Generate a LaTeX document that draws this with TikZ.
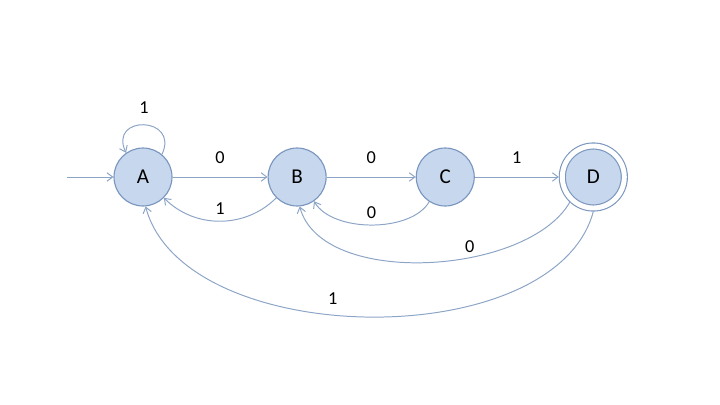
\documentclass[tikz,border=0pt]{standalone}
\usepackage{fontspec}
\setmainfont{Carlito}
\usepackage{tikz}
\usetikzlibrary{positioning,arrows.meta}
\definecolor{statefill}{RGB}{198,215,238}
\definecolor{stateline}{RGB}{122,150,190}
\definecolor{edgeline}{RGB}{140,164,198}
\tikzset{
  state/.style={circle, draw=stateline, fill=statefill, line width=0.8pt, minimum size=14.5mm, inner sep=0pt, font=\fontsize{15}{17}\selectfont},
  accept/.style={double=white, double distance=3.5pt, minimum size=15.5mm, outer sep=2.5pt},
  fwd/.style={-{Straight Barb[length=4pt,width=6pt]}, draw=edgeline, line width=0.7pt},
  lbl/.style={font=\fontsize{13}{15}\selectfont, inner sep=1pt},
}
\begin{document}
\begin{tikzpicture}
  \useasboundingbox (0,0) rectangle (18,-10.125);
  \node[state] (nodeA) at (3.575,-4.425) {A};
  \node[state] (nodeB) [right=2.375cm of nodeA] {B};
  \node[state] (nodeC) [right=2.225cm of nodeB] {C};
  \node[state, accept] (nodeD) [right=2.1cm of nodeC] {D};
  \coordinate[left=1.15cm of nodeA] (start);

  \draw[fwd] (start) -- (nodeA);
  \draw[fwd] (nodeA.50) to[out=65, in=115, looseness=3] node[lbl, above=7pt] {1} (nodeA.125);
  \draw[fwd] (nodeA) -- node[lbl, above=8.5pt] {0} (nodeB);
  \draw[fwd] (nodeB) -- node[lbl, above=8.5pt] {0} (nodeC);
  \draw[fwd] (nodeC) -- node[lbl, above=8.5pt] {1} (nodeD);
  \draw[fwd] (nodeB.225) to[out=225, in=-45] node[lbl, above=3.5pt] {1} (nodeA.-45);
  \draw[fwd] (nodeC.237) to[out=240, in=-60, looseness=0.8] node[lbl, above=3pt] {0} (nodeB.-55);
  \draw[fwd] (nodeD.227) to[out=240, in=-75, looseness=0.8] node[lbl, pos=0.38, above=2pt] {0} (nodeB.-85);
  \draw[fwd] (nodeD.270) to[out=255, in=-75, looseness=0.85] node[lbl, pos=0.56, above=6pt] {1} (nodeA.-85);
\end{tikzpicture}
\end{document}
